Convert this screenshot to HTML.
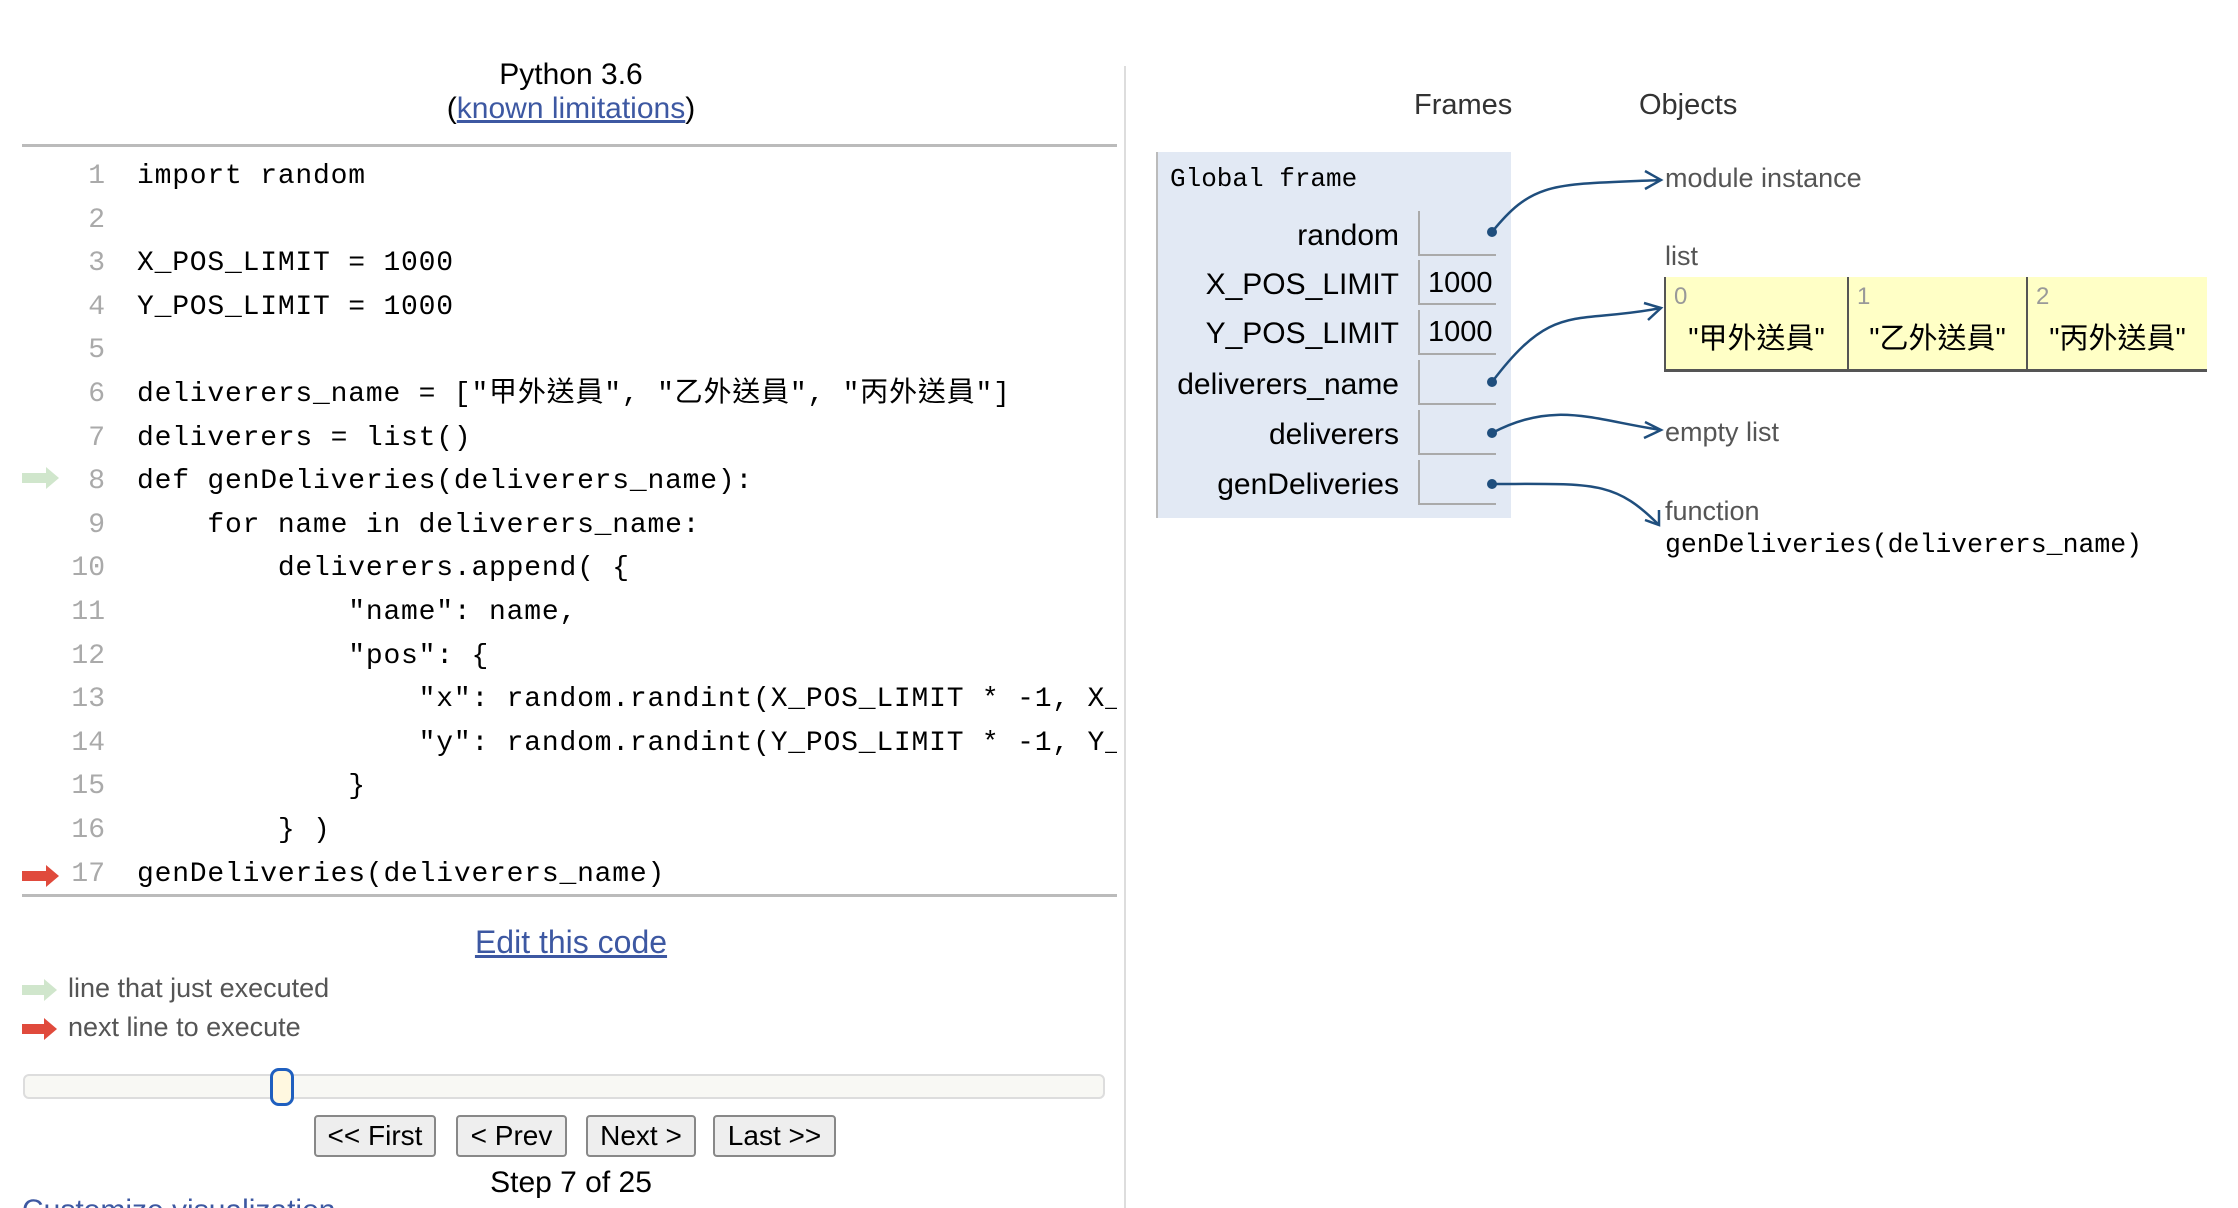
<!DOCTYPE html>
<html><head><meta charset="utf-8"><style>
html,body{margin:0;padding:0;background:#fff;}
html{height:1208px;overflow:hidden;}
body{width:2238px;height:1208px;position:relative;overflow:hidden;font-family:"Liberation Sans","Noto Sans CJK TC",sans-serif;color:#000;}
.a{position:absolute;white-space:pre;}
.mono{font-family:"Liberation Mono","Noto Sans CJK TC",monospace;}
.ln{position:absolute;width:60px;left:45px;text-align:right;color:#aaa;font-family:"Liberation Mono",monospace;font-size:28px;line-height:34px;}
.code{position:absolute;left:137px;white-space:pre;font-family:"Liberation Mono","Noto Sans CJK TC",monospace;font-size:28px;line-height:34px;letter-spacing:0.8px;}
.lbl{position:absolute;right:839px;font-size:30px;text-align:right;}
.box{position:absolute;left:1418px;width:76px;height:43px;border-left:2px solid #aaa;border-bottom:2px solid #aaa;}
.btn{position:absolute;top:1115px;height:38px;border:2px solid #888;border-radius:4px;background:#eee;font-size:28px;line-height:38px;text-align:center;}
.cell{position:absolute;top:277px;height:92px;border-left:2px solid #555;border-bottom:3px solid #555;background:#ffffc6;}
.idx{position:absolute;left:8px;top:6px;color:#999;font-size:24px;}
.val{position:absolute;left:0;right:0;top:38px;text-align:center;font-size:29px;}
</style></head><body>
<div class="a" style="left:0;width:1142px;top:58px;text-align:center;font-size:30px;line-height:34px;">Python 3.6<br>(<span style="color:#3d58a2;text-decoration:underline;">known limitations</span>)</div>
<div class="a" style="left:22px;top:144px;width:1095px;height:3px;background:#bbb;"></div>
<div class="a" style="left:1124px;top:66px;width:2px;height:1142px;background:#ddd;"></div>

<div class="ln" style="top:160px">1</div><div class="code" style="top:160px">import random</div>
<div class="ln" style="top:204px">2</div>
<div class="ln" style="top:247px">3</div><div class="code" style="top:247px">X_POS_LIMIT = 1000</div>
<div class="ln" style="top:291px">4</div><div class="code" style="top:291px">Y_POS_LIMIT = 1000</div>
<div class="ln" style="top:334px">5</div>
<div class="ln" style="top:378px">6</div><div class="code" style="top:378px">deliverers_name = ["甲外送員", "乙外送員", "丙外送員"]</div>
<div class="ln" style="top:422px">7</div><div class="code" style="top:422px">deliverers = list()</div>
<div class="ln" style="top:465px">8</div><div class="code" style="top:465px">def genDeliveries(deliverers_name):</div>
<div class="ln" style="top:509px">9</div><div class="code" style="top:509px">    for name in deliverers_name:</div>
<div class="ln" style="top:552px">10</div><div class="code" style="top:552px">        deliverers.append( {</div>
<div class="ln" style="top:596px">11</div><div class="code" style="top:596px">            "name": name,</div>
<div class="ln" style="top:640px">12</div><div class="code" style="top:640px">            "pos": {</div>
<div class="ln" style="top:683px">13</div><div class="code" style="top:683px;width:980px;overflow:hidden">                "x": random.randint(X_POS_LIMIT * -1, X_POS_LIMIT)</div>
<div class="ln" style="top:727px">14</div><div class="code" style="top:727px;width:980px;overflow:hidden">                "y": random.randint(Y_POS_LIMIT * -1, Y_POS_LIMIT)</div>
<div class="ln" style="top:770px">15</div><div class="code" style="top:770px">            }</div>
<div class="ln" style="top:814px">16</div><div class="code" style="top:814px">        } )</div>
<div class="ln" style="top:858px">17</div><div class="code" style="top:858px">genDeliveries(deliverers_name)</div>
<div class="a" style="left:22px;top:894px;width:1095px;height:3px;background:#bbb;"></div>

<div class="a" style="left:0;width:1142px;top:924px;text-align:center;font-size:32px;color:#3d58a2;text-decoration:underline;">Edit this code</div>
<div class="a" style="left:68px;top:973px;font-size:27px;color:#555;">line that just executed</div>
<div class="a" style="left:68px;top:1012px;font-size:27px;color:#555;">next line to execute</div>
<div class="a" style="left:23px;top:1074px;width:1078px;height:21px;border:2px solid #ddd;border-radius:6px;background:#f8f8f4;"></div>
<div class="a" style="left:270px;top:1068px;width:18px;height:32px;border:3px solid #1f5fbf;border-radius:9px;background:#fff8e0;"></div>
<div class="btn" style="left:314px;width:118px;">&lt;&lt; First</div>
<div class="btn" style="left:456px;width:107px;">&lt; Prev</div>
<div class="btn" style="left:586px;width:106px;">Next &gt;</div>
<div class="btn" style="left:713px;width:119px;">Last &gt;&gt;</div>
<div class="a" style="left:0;width:1142px;top:1166px;text-align:center;font-size:30px;">Step 7 of 25</div>
<div class="a" style="left:22px;top:1198px;height:10px;width:400px;overflow:hidden;"><div style="font-size:30px;line-height:30px;color:#3d58a2;margin-top:-2px;">Customize visualization</div></div>

<div class="a" style="left:1414px;top:89px;font-size:29px;color:#333;">Frames</div>
<div class="a" style="left:1639px;top:89px;font-size:29px;color:#333;">Objects</div>
<div class="a" style="left:1156px;top:152px;width:355px;height:366px;background:#e2e9f4;border-left:2px solid #bbb;box-sizing:border-box;"></div>
<div class="a mono" style="left:1170px;top:164px;font-size:26px;">Global frame</div>
<div class="lbl" style="top:219px">random</div><div class="box" style="top:211px"></div>
<div class="lbl" style="top:268px">X_POS_LIMIT</div><div class="box" style="top:260px"></div><div class="a" style="left:1428px;top:267px;font-size:29px;">1000</div>
<div class="lbl" style="top:317px">Y_POS_LIMIT</div><div class="box" style="top:310px"></div><div class="a" style="left:1428px;top:316px;font-size:29px;">1000</div>
<div class="lbl" style="top:368px">deliverers_name</div><div class="box" style="top:360px"></div>
<div class="lbl" style="top:418px">deliverers</div><div class="box" style="top:410px"></div>
<div class="lbl" style="top:468px">genDeliveries</div><div class="box" style="top:460px"></div>

<div class="a" style="left:1665px;top:163px;font-size:27px;color:#555;">module instance</div>
<div class="a" style="left:1665px;top:241px;font-size:27px;color:#555;">list</div>
<div class="cell" style="left:1664px;width:181px;"><div class="idx">0</div><div class="val">"甲外送員"</div></div>
<div class="cell" style="left:1847px;width:177px;"><div class="idx">1</div><div class="val">"乙外送員"</div></div>
<div class="cell" style="left:2026px;width:179px;"><div class="idx">2</div><div class="val">"丙外送員"</div></div>
<div class="a" style="left:1665px;top:417px;font-size:27px;color:#555;">empty list</div>
<div class="a" style="left:1665px;top:496px;font-size:27px;color:#555;">function</div>
<div class="a mono" style="left:1665px;top:530px;font-size:26.5px;">genDeliveries(deliverers_name)</div>

<svg class="a" style="left:0;top:0;z-index:5" width="2238" height="1208">
 <g fill="#d0e6cc"><polygon points="22,473 46,473 46,467 59,478 46,489 46,483 22,483"/><polygon points="22,985 44,985 44,979 57,990 44,1001 44,995 22,995"/></g>
 <g fill="#e04a3c"><polygon points="22,871 46,871 46,865 59,876 46,887 46,881 22,881"/><polygon points="22,1024 44,1024 44,1018 57,1029 44,1040 44,1034 22,1034"/></g>
 <g fill="none" stroke="#1f4e7d" stroke-width="2.5">
  <path d="M1492,232 C1534,180 1554,185 1661,180"/>
  <path d="M1492,382 C1554,300 1574,325 1661,308"/>
  <path d="M1492,433 C1554,400 1594,420 1661,430"/>
  <path d="M1492,484 C1594,484 1614,480 1659,525"/>
  <path d="M1645,171 L1661,180 L1645,189"/>
  <path d="M1644,303 L1661,308 L1648,320"/>
  <path d="M1645,422 L1661,430 L1644,438"/>
  <path d="M1659,510 L1659,525 L1645,520"/>
 </g>
 <g fill="#1f4e7d"><circle cx="1492" cy="232" r="5"/><circle cx="1492" cy="382" r="5"/><circle cx="1492" cy="433" r="5"/><circle cx="1492" cy="484" r="5"/></g>
</svg>
</body></html>
